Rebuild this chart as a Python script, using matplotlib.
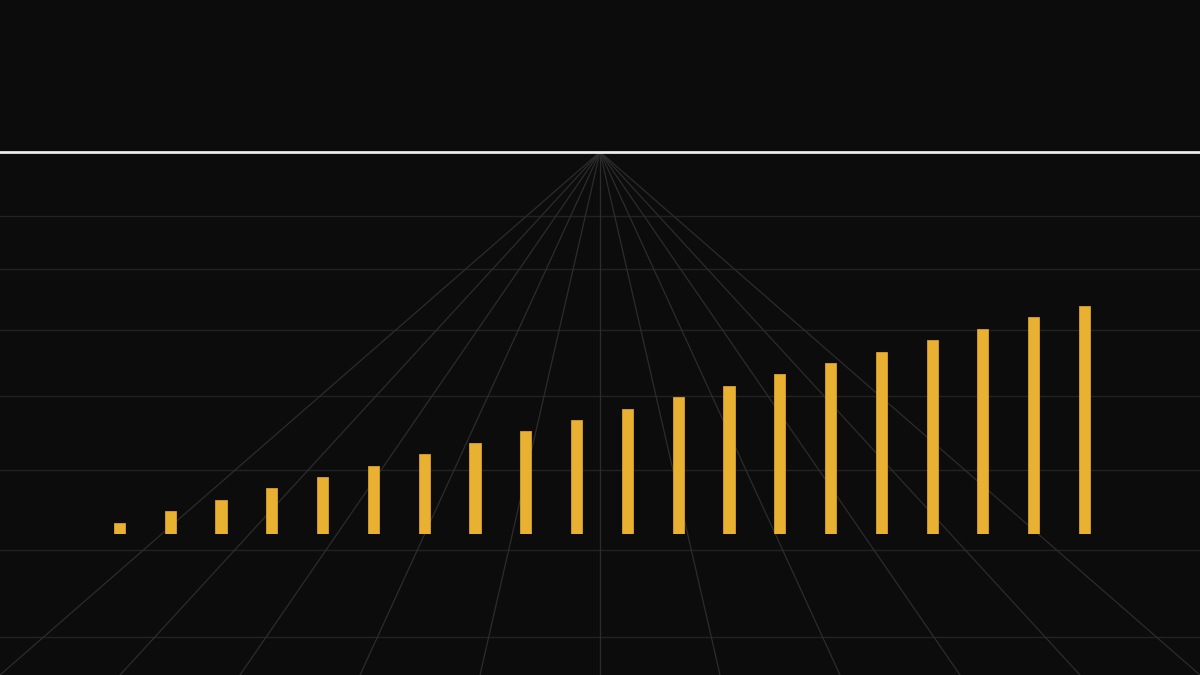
import matplotlib
matplotlib.use("Agg")
import matplotlib.pyplot as plt
import numpy as np

# bar data (20 steps, growing by one unit each)
categories = list(range(1, 21))
values = [1, 2, 3, 4, 5, 6, 7, 8, 9, 10, 11, 12, 13, 14, 15, 16, 17, 18, 19, 20]

# decorative floor grid, in pixel space of the 1200x675 canvas
horizon_y = 152
vanish_x = 600
floor_rows = [216, 269, 330, 396, 470, 550, 637]
ray_offsets = [-5, -4, -3, -2, -1, 0, 1, 2, 3, 4, 5]  # rays hit bottom edge every 120 px

BG = "#0c0c0c"
GRID = "#222222"
RAY = "#2c2c2c"
BAR = "#e9b132"

fig = plt.figure(figsize=(12, 6.75), dpi=100)
fig.patch.set_facecolor(BG)

# background layer: horizon, floor rows and perspective rays
ax_bg = fig.add_axes([0, 0, 1, 1])
ax_bg.set_xlim(0, 1200)
ax_bg.set_ylim(675, 0)
ax_bg.set_facecolor(BG)
ax_bg.axis("off")

for y in floor_rows:
    ax_bg.axhline(y, color=GRID, lw=1.0, zorder=1)

for k in ray_offsets:
    x_bottom = vanish_x + 120 * k
    ax_bg.plot([vanish_x, x_bottom], [horizon_y, 675], color=RAY, lw=0.9, zorder=1)

ax_bg.axhline(horizon_y, color="#ececec", lw=2.0, zorder=3)

# bar layer
ax = fig.add_axes([0.0784, 0.2089, 0.8465, 0.3716])
ax.patch.set_alpha(0)
ax.bar(np.arange(len(categories)), values, width=0.22, color=BAR,
       edgecolor="#d9a02a", linewidth=0.6, zorder=2)
ax.set_xlim(-0.5, len(categories) - 0.5)
ax.set_ylim(0, 22)
ax.axis("off")

fig.savefig("out.png", dpi=100, facecolor=BG)
